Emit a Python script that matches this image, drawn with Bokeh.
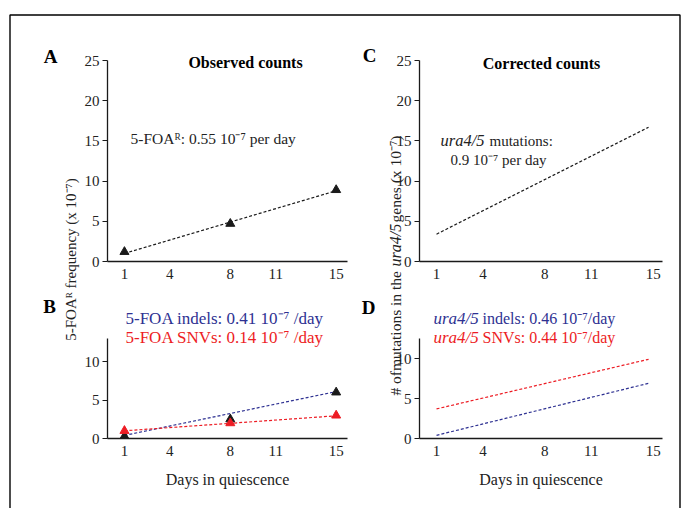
import math
from bokeh.plotting import figure
from bokeh.models import GridBox, Range1d, FixedTicker, Label
from bokeh.layouts import row, column
from bokeh.embed import file_html
from bokeh.resources import INLINE

FONT = "Liberation Serif"
NAVY = "#2E3192"
RED = "#ED1C24"
INK = "#1a1a1a"

# ---------------- data ----------------
tick_days = [1, 4, 8, 11, 15]
ticks_25 = [0, 5, 10, 15, 20, 25]
ticks_10 = [0, 5, 10]

# Panel A: observed 5-FOA^R frequency (x 10^-7)
obs_days = [1, 8, 15]
obs_freq = [1.2, 4.7, 8.9]
obs_fit_days = [1, 15]
obs_fit = [1.0, 8.8]

# Panel B: observed indels / SNVs
b_days = [1, 8, 15]
b_indel = [0.3, 2.5, 6.0]
b_snv = [1.0, 2.0, 3.0]
b_fit_days = [1, 15]
b_indel_fit = [0.4, 6.1]
b_snv_fit = [1.0, 2.95]

# Panel C: corrected ura4/5 mutations
c_days = [1, 14.7]
c_mut = [3.4, 16.7]

# Panel D: corrected indels / SNVs
d_days = [1, 14.7]
d_indel = [0.4, 6.9]
d_snv = [3.7, 9.9]


def panel(w, h, xr, yr, yticks, left, right, top, bottom):
    p = figure(width=w, height=h, x_range=Range1d(*xr), y_range=Range1d(*yr),
               output_backend="svg", toolbar_location=None, title=None,
               min_border_left=left, min_border_right=right,
               min_border_top=top, min_border_bottom=bottom)
    p.outline_line_color = None
    p.grid.visible = False
    p.background_fill_color = "white"
    p.border_fill_color = "white"
    for ax in p.xaxis:
        ax.ticker = FixedTicker(ticks=tick_days)
        ax.major_tick_out = 0
        ax.major_tick_in = 0
        ax.minor_tick_out = 0
        ax.minor_tick_in = 0
        ax.major_label_standoff = 7
    for ax in p.yaxis:
        ax.ticker = FixedTicker(ticks=yticks)
        ax.major_tick_out = 5
        ax.major_tick_in = 0
        ax.minor_tick_out = 0
        ax.minor_tick_in = 0
        ax.major_label_standoff = 3
    for ax in p.axis:
        ax.axis_line_color = INK
        ax.axis_line_width = 1.3
        ax.major_tick_line_color = INK
        ax.major_tick_line_width = 1.2
        ax.major_label_text_font = FONT
        ax.major_label_text_font_size = "15px"
        ax.major_label_text_color = "#222222"
        ax.axis_label_text_font = FONT
        ax.axis_label_text_font_size = "16px"
        ax.axis_label_text_font_style = "normal"
        ax.axis_label_text_color = "#222222"
    return p


# Layout in page pixels: column split at x=363, row split at y=292
# Panel A
pa = panel(363, 292, (-0.12, 15.75), (0, 25), ticks_25, 107, 16, 59, 30)
pa.line(obs_fit_days, obs_fit, line_color=INK, line_dash="3 2", line_width=1.2)
pa.scatter(obs_days, obs_freq, marker="triangle", size=9, color=INK)

# Panel B
pb = panel(363, 216, (-0.12, 15.75), (0, 13), ticks_10, 107, 16, 41, 70)
pb.line(b_fit_days, b_indel_fit, line_color=NAVY, line_dash="3 2", line_width=1.2)
pb.line(b_fit_days, b_snv_fit, line_color=RED, line_dash="3 2", line_width=1.2)
pb.scatter(b_days, b_indel, marker="triangle", size=9, color=INK)
pb.scatter(b_days, b_snv, marker="triangle", size=9, color=RED)
pb.xaxis.axis_label = "Days in quiescence"
pb.xaxis.axis_label_standoff = 12

# Panel C
pc = panel(318, 292, (-0.1, 15.6), (0, 25), ticks_25, 56, 19, 60, 31)
pc.line(c_days, c_mut, line_color=INK, line_dash="3 2", line_width=1.2)

# Panel D
pd_ = panel(318, 216, (-0.1, 15.6), (0, 12.5), ticks_10, 56, 19, 46, 70)
pd_.line(d_days, d_snv, line_color=RED, line_dash="3 2", line_width=1.2)
pd_.line(d_days, d_indel, line_color=NAVY, line_dash="3 2", line_width=1.2)
pd_.xaxis.axis_label = "Days in quiescence"
pd_.xaxis.axis_label_standoff = 12

# Overlay (page coordinates) for letters, annotations, shared y labels and frame
ov = figure(width=681, height=508, x_range=Range1d(0, 681), y_range=Range1d(508, 0),
            output_backend="svg", toolbar_location=None, title=None,
            x_axis_type=None, y_axis_type=None, min_border=0)
ov.outline_line_color = None
ov.background_fill_color = None
ov.border_fill_color = None
ov.grid.visible = False
ov.line([9.5, 9.5, 679.5, 679.5], [508, 14.5, 14.5, 508], line_color="black", line_width=1.4)


def lab(x, y, text, size="15px", color="#222222", style="normal", align="left", angle=0.0):
    ov.add_layout(Label(x=x, y=y, text=text, text_font=FONT, text_font_size=size,
                        text_color=color, text_font_style=style, text_align=align,
                        text_baseline="middle", angle=angle))


for letter, x, y in [("A", 50, 56), ("B", 49, 306), ("C", 369, 55), ("D", 368, 307)]:
    lab(x, y, letter, size="19px", color="black", style="bold", align="center")

lab(245, 62, "Observed counts", size="16px", style="bold", align="center", color="black")
lab(541, 63, "Corrected counts", size="16px", style="bold", align="center", color="black")

lab(130, 138, "5-FOAᴿ: 0.55 10⁻⁷ per day", size="15.5px")
lab(440, 140, "ura4/5", size="16.5px", style="italic")
lab(489, 140, "mutations:")
lab(450, 159, "0.9 10⁻⁷ per day")

lab(125, 318, "5-FOA indels: 0.41 10⁻⁷ /day", size="17px", color=NAVY)
lab(125, 337, "5-FOA SNVs: 0.14 10⁻⁷ /day", size="17px", color=RED)

lab(433, 318, "ura4/5", size="17px", color=NAVY, style="italic")
lab(482, 318, "indels: 0.46 10⁻⁷/day", size="16px", color=NAVY)
lab(433, 337, "ura4/5", size="17px", color=RED, style="italic")
lab(482, 337, "SNVs: 0.44 10⁻⁷/day", size="16px", color=RED)

lab(70, 259, "5-FOAᴿ frequency (x 10⁻⁷)", align="center", angle=math.pi / 2)
lab(395, 395, "# ofmutations in the", size="15.5px", angle=math.pi / 2)
lab(395, 266, "ura4/5", size="16px", style="italic", angle=math.pi / 2)
lab(395, 222, " genes (x 10⁻⁷)", size="15.5px", angle=math.pi / 2)

inner = column(row(pa, pc, spacing=0), row(pb, pd_, spacing=0), spacing=0)
grid = GridBox(children=[(inner, 0, 0), (ov, 0, 0)], spacing=0)

open("out.html", "w").write(file_html(grid, INLINE))
